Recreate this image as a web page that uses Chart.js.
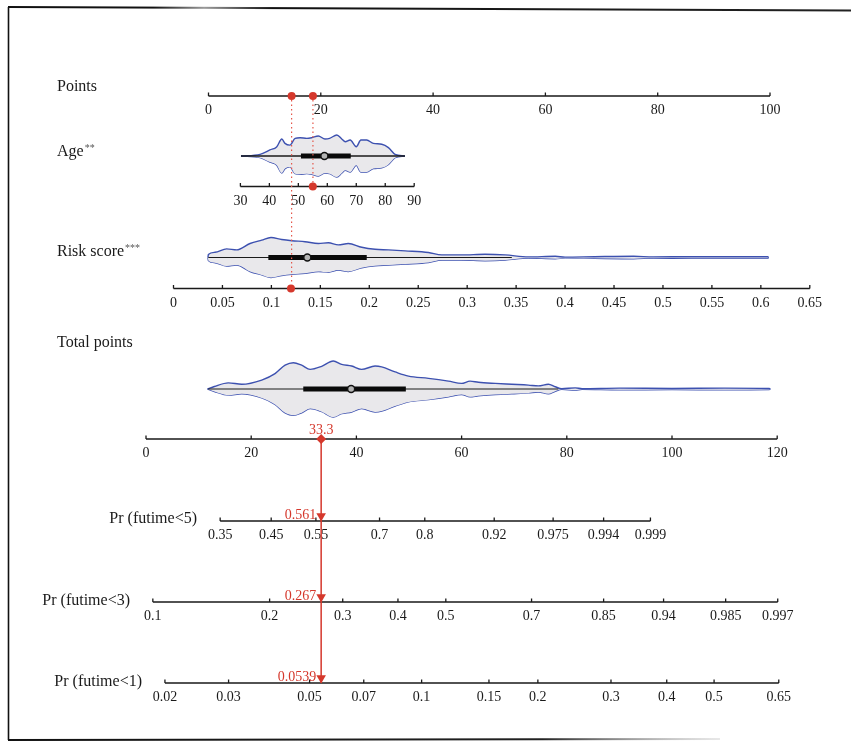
<!DOCTYPE html>
<html>
<head>
<meta charset="utf-8">
<script src="https://cdn.jsdelivr.net/npm/chart.js@4.4.1/dist/chart.umd.min.js"></script>
<style>
  html, body { margin: 0; padding: 0; background: #fff; }
  #wrap { width: 851px; height: 743px; }
</style>
</head>
<body>
<div id="wrap"><canvas id="nomo" width="851" height="743"></canvas></div>
<script>
// axis ticks
const pointsTicks = [0, 20, 40, 60, 80, 100];
const ageTicks = [30, 40, 50, 60, 70, 80, 90];
const riskTicks = [0, 0.05, 0.1, 0.15, 0.2, 0.25, 0.3, 0.35, 0.4, 0.45, 0.5, 0.55, 0.6, 0.65];
const riskTickLabels = ['0', '0.05', '0.1', '0.15', '0.2', '0.25', '0.3', '0.35', '0.4', '0.45', '0.5', '0.55', '0.6', '0.65'];
const totalTicks = [0, 20, 40, 60, 80, 100, 120];

// probability axes: label + where it sits on the total points scale
const pr5Labels = ['0.35', '0.45', '0.55', '0.7', '0.8', '0.92', '0.975', '0.994', '0.999'];
const pr5AtTotal = [14.1, 23.8, 32.3, 44.4, 53.0, 66.2, 77.4, 87.0, 95.9];
const pr3Labels = ['0.1', '0.2', '0.3', '0.4', '0.5', '0.7', '0.85', '0.94', '0.985', '0.997'];
const pr3AtTotal = [1.3, 23.5, 37.4, 47.9, 57.0, 73.3, 87.0, 98.4, 110.2, 120.1];
const pr1Labels = ['0.02', '0.03', '0.05', '0.07', '0.1', '0.15', '0.2', '0.3', '0.4', '0.5', '0.65'];
const pr1AtTotal = [3.6, 15.7, 31.1, 41.4, 52.4, 65.2, 74.5, 88.4, 99.0, 108.0, 120.3];

// the highlighted patient
const patientAge = 55;
const patientRisk = 0.12;
const agePoints = 18.6;
const riskPoints = 14.8;
const totalPoints = 33.3;
const probValues = ['0.561', '0.267', '0.0539'];

// violin outlines (relative density) and box stats [lo, q1, median, q3, hi]
const ageGrid = [30.2, 36.8, 40.2, 42.5, 44.3, 45.4, 47.1, 48.9, 50.6, 52.9, 54.6, 56.9, 59.2, 60.8, 63.3, 65.0, 66.2, 67.9, 70.0, 71.6, 73.6, 75.9, 78.8, 81.1, 83.4, 86.8];
const ageDens = [0, 0.08, 0.29, 0.43, 0.81, 0.6, 0.52, 0.84, 0.87, 0.84, 0.87, 0.95, 0.81, 0.84, 1, 0.81, 0.68, 0.76, 0.44, 0.76, 0.76, 0.6, 0.56, 0.4, 0.08, 0];
const ageBox = [30.2, 50.9, 59.0, 68.1, 86.8];

const riskGrid = [0.0352, 0.0356, 0.0424, 0.0543, 0.0645, 0.0782, 0.0901, 0.0996, 0.1105, 0.1208, 0.1344, 0.148, 0.1582, 0.1684, 0.1786, 0.1923, 0.2059, 0.2195, 0.2366, 0.2604, 0.274, 0.2945, 0.3183, 0.3387, 0.3626, 0.39, 0.40, 0.43, 0.47, 0.49, 0.53, 0.607, 0.608];
const riskDens = [0, 0.15, 0.26, 0.43, 0.38, 0.7, 0.87, 1, 0.9, 0.84, 0.79, 0.7, 0.74, 0.63, 0.7, 0.51, 0.41, 0.38, 0.33, 0.25, 0.13, 0.13, 0.16, 0.13, 0.03, 0.06, 0.02, 0.04, 0.06, 0.03, 0.04, 0.04, 0];
const riskBox = [0.0356, 0.0969, 0.1367, 0.1974, 0.3456];

const totalGrid = [11.7, 13.0, 15.65, 18.2, 22.0, 24.53, 26.44, 28.02, 29.6, 31.2, 33.4, 35.6, 37.2, 39.1, 41.0, 43.55, 44.8, 47.36, 49.9, 53.7, 57.5, 60.0, 61.6, 63.2, 66.4, 69.55, 72.7, 74.6, 76.5, 77.8, 79.05, 81.6, 82.9, 90, 100, 110, 118.5, 118.7];
const totalDens = [0, 0.09, 0.22, 0.17, 0.32, 0.55, 0.85, 0.94, 0.85, 0.7, 0.81, 1, 0.88, 0.82, 0.7, 0.82, 0.79, 0.61, 0.46, 0.38, 0.28, 0.2, 0.28, 0.24, 0.2, 0.17, 0.14, 0.11, 0.17, 0.08, 0.01, 0.04, 0.01, 0.03, 0.02, 0.03, 0.02, 0];
const totalBox = [11.85, 29.9, 39.0, 49.4, 78.4];

// layout
const W = 851, H = 743;
const rowY = { points: 96, age: 186.5, risk: 288.5, total: 439, pr5: 521, pr3: 602, pr1: 683 };
const violinY = { age: 156, risk: 257.5, total: 389 };
const violinH = { age: 21, risk: 20, total: 28 };
const RED = '#d5382c';
const BLUE = '#3d51b0';
const INK = '#1a1a1a';
const TICK_FONT = '14px "Liberation Serif", serif';
const LABEL_FONT = '16px "Liberation Serif", serif';

// value range that puts v0 at pixel p0 and v1 at pixel p1 across the full width
function span(v0, p0, v1, p1) {
    const k = (v1 - v0) / (p1 - p0);
    return { min: v0 - p0 * k, max: v0 + (W - p0) * k };
}

function violin(grid, dens, cy, h, axis) {
    const up = grid.map((x, i) => ({ x: x, y: cy - dens[i] * h }));
    const lo = grid.map((x, i) => ({ x: x, y: cy + dens[i] * h }));
    const base = {
        xAxisID: axis, pointRadius: 0, borderColor: BLUE, borderWidth: 1.4,
        cubicInterpolationMode: 'monotone', order: 10
    };
    return [
        Object.assign({ data: up, fill: '+1', backgroundColor: '#e9e8eb' }, base),
        Object.assign({ data: lo, fill: false }, base)
    ];
}

function boxplot(box, cy, axis, whiskerW) {
    return [
        { data: [{ x: box[0], y: cy }, { x: box[4], y: cy }], xAxisID: axis, borderColor: INK,
          borderWidth: whiskerW, pointRadius: 0, order: 6 },
        { data: [{ x: box[1], y: cy }, { x: box[3], y: cy }], xAxisID: axis, borderColor: '#0a0a0a',
          borderWidth: 5, borderCapStyle: 'butt', pointRadius: 0, order: 5 },
        { data: [{ x: box[2], y: cy }], xAxisID: axis, showLine: false, pointRadius: 3.5,
          pointBackgroundColor: '#b4b4b4', pointBorderColor: '#111', pointBorderWidth: 1.4, order: 4 }
    ];
}

function redDot(x, y, axis) {
    return { data: [{ x: x, y: y }], xAxisID: axis, showLine: false, pointRadius: 4,
             pointBackgroundColor: RED, pointBorderWidth: 0, order: 0 };
}

function dotted(x, y0, y1, axis) {
    return { data: [{ x: x, y: y0 }, { x: x, y: y1 }], xAxisID: axis, borderColor: '#e5574a',
             borderWidth: 1.2, borderDash: [1.5, 3], pointRadius: 0, order: 1 };
}

const datasets = [].concat(
    violin(ageGrid, ageDens, violinY.age, violinH.age, 'xAge'),
    violin(riskGrid, riskDens, violinY.risk, violinH.risk, 'xRisk'),
    violin(totalGrid, totalDens, violinY.total, violinH.total, 'xTot'),
    boxplot(ageBox, violinY.age, 'xAge', 1.6),
    boxplot(riskBox, violinY.risk, 'xRisk', 1.2),
    boxplot(totalBox, violinY.total, 'xTot', 1.2),
    [
        dotted(riskPoints, rowY.points + 4, rowY.risk - 4, 'xPts'),
        dotted(agePoints, rowY.points + 4, rowY.age - 4, 'xPts'),
        { data: [{ x: riskPoints, y: rowY.points }, { x: agePoints, y: rowY.points }], xAxisID: 'xPts',
          showLine: false, pointRadius: 4, pointBackgroundColor: RED, pointBorderWidth: 0, order: 0 },
        redDot(patientAge, rowY.age, 'xAge'),
        redDot(patientRisk, rowY.risk, 'xRisk'),
        { data: [{ x: totalPoints, y: rowY.total }, { x: totalPoints, y: rowY.pr1 }], xAxisID: 'xTot',
          borderColor: RED, borderWidth: 1.5, pointRadius: 0, order: 1 },
        { data: [{ x: totalPoints, y: rowY.total }], xAxisID: 'xTot', showLine: false,
          pointStyle: 'rectRot', pointRadius: 5, pointBackgroundColor: RED, pointBorderWidth: 0, order: 0 },
        { data: [rowY.pr5, rowY.pr3, rowY.pr1].map(y => ({ x: totalPoints, y: y - 5 })), xAxisID: 'xTot',
          showLine: false, pointStyle: 'triangle', rotation: 180, pointRadius: 5.5,
          pointBackgroundColor: RED, pointBorderWidth: 0, order: 0 }
    ]
);

function drawAxis(ctx, scale, y, values, labels) {
    const xs = values.map(v => scale.getPixelForValue(v));
    ctx.beginPath();
    ctx.moveTo(xs[0], y);
    ctx.lineTo(xs[xs.length - 1], y);
    xs.forEach(x => { ctx.moveTo(x, y); ctx.lineTo(x, y - 3.5); });
    ctx.stroke();
    ctx.font = TICK_FONT;
    ctx.textAlign = 'center';
    ctx.textBaseline = 'middle';
    labels.forEach((l, i) => ctx.fillText(l, xs[i], y + 14.5));
}

function rowLabel(ctx, text, sup, x, y, align) {
    ctx.font = LABEL_FONT;
    ctx.textAlign = align;
    ctx.textBaseline = 'middle';
    ctx.fillStyle = INK;
    ctx.fillText(text, x, y);
    if (sup) {
        const w = ctx.measureText(text).width;
        ctx.font = '10px "Liberation Serif", serif';
        ctx.textAlign = 'left';
        ctx.fillStyle = '#555';
        ctx.fillText(sup, x + w + 1, y - 4);
    }
}

const nomogramPlugin = {
    id: 'nomogram',
    beforeDatasetsDraw(chart) {
        const ctx = chart.ctx;
        const s = chart.scales;
        const yp = v => s.y.getPixelForValue(v);
        ctx.save();

        // frame of the figure
        ctx.lineWidth = 2;
        const top = ctx.createLinearGradient(0, 0, W, 0);
        top.addColorStop(0, '#111');
        top.addColorStop(0.18, '#111');
        top.addColorStop(0.24, '#9a9a9a');
        top.addColorStop(0.32, '#111');
        top.addColorStop(1, '#222');
        ctx.strokeStyle = top;
        ctx.beginPath(); ctx.moveTo(8, 7); ctx.lineTo(W, 10.5); ctx.stroke();
        ctx.strokeStyle = '#111';
        ctx.lineWidth = 1.6;
        ctx.beginPath(); ctx.moveTo(8.5, 7); ctx.lineTo(8.5, 740); ctx.stroke();
        const bot = ctx.createLinearGradient(8, 0, 720, 0);
        bot.addColorStop(0, '#111');
        bot.addColorStop(0.75, '#222');
        bot.addColorStop(1, 'rgba(180,180,180,0.3)');
        ctx.strokeStyle = bot;
        ctx.lineWidth = 2.2;
        ctx.beginPath(); ctx.moveTo(8, 740); ctx.lineTo(720, 739); ctx.stroke();

        // axes
        ctx.strokeStyle = INK;
        ctx.fillStyle = INK;
        ctx.lineWidth = 1.3;
        drawAxis(ctx, s.xPts, yp(rowY.points), pointsTicks, pointsTicks.map(String));
        drawAxis(ctx, s.xAge, yp(rowY.age), ageTicks, ageTicks.map(String));
        drawAxis(ctx, s.xRisk, yp(rowY.risk), riskTicks, riskTickLabels);
        drawAxis(ctx, s.xTot, yp(rowY.total), totalTicks, totalTicks.map(String));
        drawAxis(ctx, s.xTot, yp(rowY.pr5), pr5AtTotal, pr5Labels);
        drawAxis(ctx, s.xTot, yp(rowY.pr3), pr3AtTotal, pr3Labels);
        drawAxis(ctx, s.xTot, yp(rowY.pr1), pr1AtTotal, pr1Labels);

        // row names
        rowLabel(ctx, 'Points', '', 57, 87, 'left');
        rowLabel(ctx, 'Age', '**', 57, 152, 'left');
        rowLabel(ctx, 'Risk score', '***', 57, 252, 'left');
        rowLabel(ctx, 'Total points', '', 57, 343, 'left');
        rowLabel(ctx, 'Pr (futime<5)', '', 197, yp(rowY.pr5) - 2, 'right');
        rowLabel(ctx, 'Pr (futime<3)', '', 130, yp(rowY.pr3) - 1, 'right');
        rowLabel(ctx, 'Pr (futime<1)', '', 142, yp(rowY.pr1) - 1, 'right');
        ctx.restore();
    },
    afterDatasetsDraw(chart) {
        const ctx = chart.ctx;
        const s = chart.scales;
        const x = s.xTot.getPixelForValue(totalPoints);
        ctx.save();
        ctx.fillStyle = RED;
        ctx.font = TICK_FONT;
        ctx.textBaseline = 'middle';
        ctx.textAlign = 'center';
        ctx.fillText(String(totalPoints), x, s.y.getPixelForValue(rowY.total) - 8.5);
        ctx.textAlign = 'right';
        [rowY.pr5, rowY.pr3, rowY.pr1].forEach((y, i) => {
            ctx.fillText(probValues[i], x - 5, s.y.getPixelForValue(y) - 6);
        });
        ctx.restore();
    }
};

const hidden = (r) => Object.assign({ type: 'linear', axis: 'x', display: false }, r);

new Chart(document.getElementById('nomo'), {
    type: 'line',
    data: { datasets: datasets },
    options: {
        responsive: false,
        animation: false,
        events: [],
        layout: { padding: 0, autoPadding: false },
        plugins: { legend: { display: false }, tooltip: { enabled: false } },
        scales: {
            xPts: hidden(span(0, 208.5, 100, 770)),
            xAge: hidden(span(30, 240.4, 90, 414.2)),
            xRisk: hidden(span(0, 173.5, 0.65, 809.8)),
            xTot: hidden(span(0, 146, 120, 777.2)),
            y: { type: 'linear', display: false, min: 0, max: H, reverse: true }
        }
    },
    plugins: [nomogramPlugin]
});
</script>
</body>
</html>
